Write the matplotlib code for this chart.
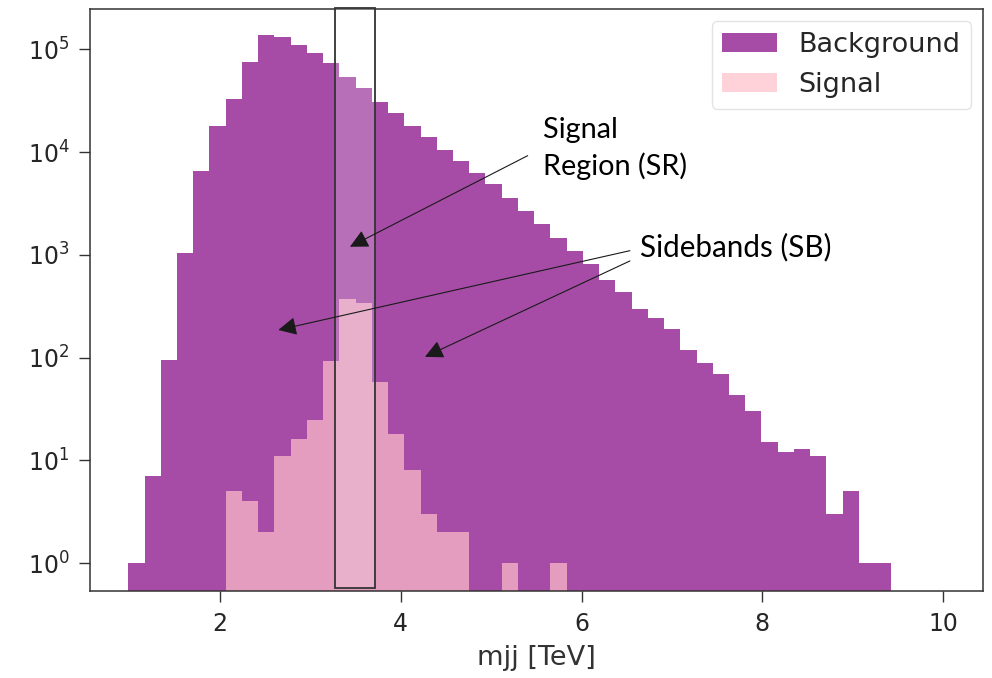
import numpy as np
import matplotlib
matplotlib.use("Agg")
import matplotlib.pyplot as plt
from matplotlib.patches import Rectangle

# ---- data ----
bin_lo, bin_hi, n_bins = 0.986, 9.427, 47
background_counts = [1, 7, 94, 1040, 6550, 18070, 32870, 75700, 137700, 130900,
                     110100, 91400, 72800, 53400, 41800, 30900, 24150, 18070, 14120, 10480,
                     8180, 6220, 4900, 3580, 2655, 1990, 1450, 1099, 811, 570,
                     439, 296, 242, 190, 119, 89, 69, 43, 30, 15,
                     12, 13, 11, 3, 5, 1, 1]
signal_counts = [0, 0, 0, 0, 0, 0, 5, 4, 2, 11,
                 16, 25, 93, 370, 338, 58, 18, 8, 3, 2,
                 2, 0, 0, 1, 0, 0, 1, 0, 0, 0,
                 0, 0, 0, 0, 0, 0, 0, 0, 0, 0,
                 0, 0, 0, 0, 0, 0, 0]
sr_window = (3.27, 3.72)
x_ticks = [2, 4, 6, 8, 10]
xlabel = "mjj [TeV]"
labels = ["Background", "Signal"]

edges = np.linspace(bin_lo, bin_hi, n_bins + 1)
centers = 0.5 * (edges[:-1] + edges[1:])

fig = plt.figure(figsize=(9.92, 6.78), dpi=100)
ax = fig.add_axes([0.0912, 0.1288, 0.9, 0.8575])

ax.hist(centers, bins=edges, weights=background_counts, color="purple", alpha=0.7,
        label=labels[0])
ax.hist(centers, bins=edges, weights=signal_counts, color="pink", alpha=0.7,
        label=labels[1])
ax.set_yscale("log")
ax.set_xlim(0.5675, 10.444)
ax.set_ylim(0.5414, 2.45e5)
ax.set_xticks(x_ticks)
ax.minorticks_off()

ax.tick_params(labelsize=17, length=8, width=1.0, pad=7, color="#333333",
               labelcolor="#262626")
ax.set_xlabel(xlabel, fontsize=19.5, color="#333333", labelpad=7)
for s in ax.spines.values():
    s.set_linewidth(1.1)
    s.set_color("#333333")

leg = ax.legend(loc="upper right", fontsize=19.5, framealpha=0.8,
                edgecolor="#dddddd", borderaxespad=0.45)
for t in leg.get_texts():
    t.set_color("#262626")

# signal region box
rect = Rectangle((sr_window[0], 0.005), sr_window[1] - sr_window[0], 0.998,
                 transform=ax.get_xaxis_transform(), facecolor=(1, 1, 1, 0.2),
                 edgecolor="#333333", linewidth=1.3, clip_on=False, zorder=5)
ax.add_patch(rect)

# annotations
afont = dict(family=["Lato", "DejaVu Sans"], color="black", zorder=7)
ap = dict(arrowstyle="-|>", mutation_scale=28, lw=0.8, color="#1a1a1a",
          shrinkA=0, shrinkB=0)
ax.text(5.573, 10840, "Signal\nRegion (SR)", ha="left", va="center",
        linespacing=1.45, fontsize=20.8, **afont)
ax.annotate("", xy=(3.438, 1200), xytext=(5.404, 9230), arrowprops=ap, zorder=7)
ax.text(6.646, 1194, "Sidebands (SB)", ha="left", va="center", fontsize=21.3, **afont)
ax.annotate("", xy=(2.645, 186), xytext=(6.535, 1099), arrowprops=ap, zorder=7)
ax.annotate("", xy=(4.268, 102), xytext=(6.535, 873), arrowprops=ap, zorder=7)

fig.savefig("out.png", dpi=100)
